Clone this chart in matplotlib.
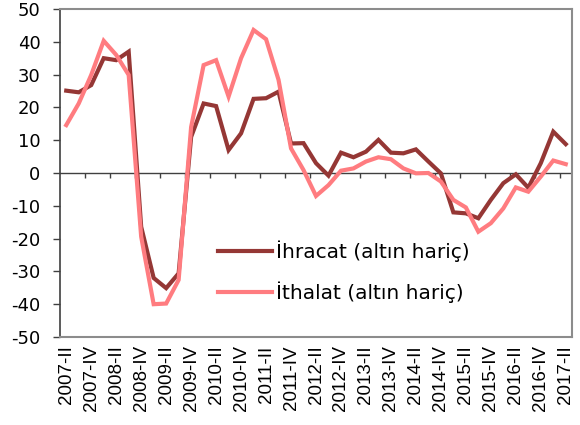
import numpy as np
import matplotlib
matplotlib.use('Agg')
import matplotlib.pyplot as plt

plt.rcParams['axes.unicode_minus'] = False

# quarterly labels, 2007-II .. 2017-II
quarters = []
for yr in range(2007, 2018):
    for q in ['I', 'II', 'III', 'IV']:
        quarters.append('%d-%s' % (yr, q))
quarters = quarters[1:quarters.index('2017-II') + 1]

ihracat = [25.1, 24.6, 26.8, 35.0, 34.4, 37.0, -16.4, -32.0, -35.1, -30.6,
           11.0, 21.2, 20.4, 7.0, 12.1, 22.6, 22.8, 24.8, 9.0, 9.1,
           3.0, -0.8, 6.2, 4.8, 6.5, 10.1, 6.2, 6.0, 7.2, 3.5,
           -0.1, -12.0, -12.3, -13.8, -8.2, -3.1, -0.4, -4.5, 3.0, 12.6, 8.8]
ithalat = [14.6, 21.2, 29.9, 40.3, 36.0, 29.9, -19.4, -40.0, -39.8, -32.6,
           14.0, 32.9, 34.4, 23.3, 35.0, 43.6, 40.8, 28.4, 7.5, 0.9,
           -7.0, -3.7, 0.7, 1.4, 3.5, 4.8, 4.2, 1.4, -0.1, 0.0,
           -2.6, -8.2, -10.5, -17.9, -15.3, -10.8, -4.4, -5.7, -1.1, 3.8, 2.7]

x = np.arange(len(quarters))

fig = plt.figure(figsize=(5.8, 4.25), dpi=100)
ax = fig.add_axes([60 / 580, (425 - 337) / 425, 512 / 580, 328 / 425])

ax.plot(x, ihracat, color='#953735', lw=3, label='İhracat (altın hariç)', solid_joinstyle='miter')
ax.plot(x, ithalat, color='#FF7C80', lw=3, label='İthalat (altın hariç)', solid_joinstyle='miter')

ax.set_xlim(-0.5, len(x) - 0.5)
ax.set_ylim(-50, 50)
ax.set_yticks(np.arange(-50, 51, 10))
ax.tick_params(axis='y', direction='out', length=5, width=1, color='#404040',
               labelsize=13, pad=9)

ax.set_xticks(x[::2])
ax.set_xticklabels(quarters[::2], rotation=90, fontsize=13.5, family='Liberation Sans')
ax.tick_params(axis='x', length=0, pad=6)

# zero line with small tick marks between categories
ax.axhline(0, color='#404040', lw=1, zorder=1)
ax.vlines(x[1:-1:2] + 0.5, -1.4, 0, color='#404040', lw=1, zorder=1)

for side in ['top', 'right', 'bottom']:
    ax.spines[side].set_color('#8c8c8c')
    ax.spines[side].set_linewidth(1.5)
ax.spines['left'].set_color('#404040')
ax.spines['left'].set_linewidth(1.2)

ax.legend(loc='upper left', bbox_to_anchor=(0.308, 0.295), frameon=False,
          fontsize=14.5, handlelength=2.7, handletextpad=0.2, labelspacing=1.0,
          borderpad=0, borderaxespad=0)

fig.savefig('out.png', dpi=100)
